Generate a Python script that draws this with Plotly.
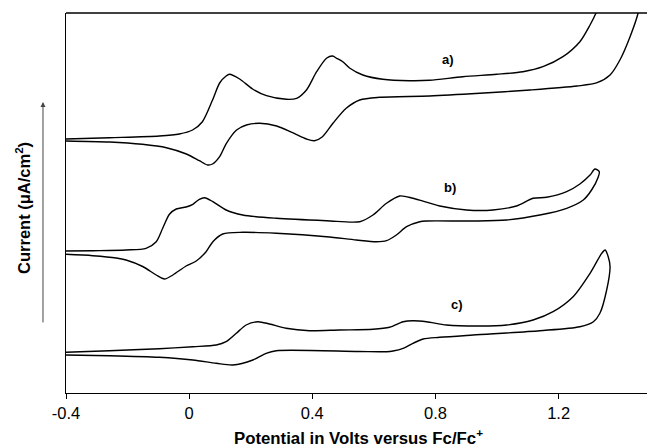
import plotly.graph_objects as go

# Cyclic voltammograms a), b), c); currents in arbitrary, vertically offset units.
# Each loop: forward (anodic) sweep left->right, then return sweep right->left.

pot_a = [-0.400, -0.259, -0.097, -0.032, 0.011, 0.043, 0.076, 0.099, 0.120, 0.131,
         0.164, 0.206, 0.251, 0.316, 0.349, 0.381, 0.414, 0.447, 0.466, 0.479,
         0.499, 0.521, 0.564, 0.629, 0.716, 0.781, 0.889, 0.999, 1.084, 1.149,
         1.214, 1.269, 1.302, 1.321, 1.345, 1.470,
         1.458, 1.432, 1.399, 1.367, 1.325, 1.260, 1.107, 0.944, 0.781, 0.619,
         0.554, 0.510, 0.467, 0.433, 0.407, 0.381, 0.336, 0.284, 0.229,
         0.186, 0.154, 0.121, 0.099, 0.076, 0.060, 0.033, -0.009, -0.074, -0.152,
         -0.259, -0.400]
cur_a = [254, 255.3, 257, 259, 263, 271.3, 293, 310, 317, 318.7,
         314, 304, 297.3, 293.7, 294.7, 303, 321.3, 335, 337, 334.7,
         331.3, 325, 318, 313.7, 312.3, 312.7, 316.3, 318.7, 321.3, 326.3,
         336.3, 351.3, 368, 379.7, 400, 400,
         379.7, 356.3, 333, 318, 310.3, 307, 303, 299.7, 297, 295.7,
         293, 284.7, 269.7, 256.3, 252.3, 254, 260.3, 267, 269.7,
         268, 263, 249.7, 236.3, 229, 228, 232.3, 239, 245.3, 248.7,
         251, 252]

pot_b = [-0.400, -0.313, -0.205, -0.140, -0.107, -0.086, -0.064, -0.042, -0.010, 0.012,
         0.033, 0.050, 0.077, 0.120, 0.174, 0.283, 0.446, 0.554, 0.597, 0.641,
         0.684, 0.727, 0.814, 0.901, 0.987, 1.063, 1.117, 1.161, 1.226, 1.269,
         1.302, 1.318, 1.332, 1.329, 1.307, 1.280, 1.226, 1.139, 1.031, 0.922,
         0.771, 0.749, 0.706, 0.673, 0.641, 0.608, 0.543, 0.446, 0.283, 0.174,
         0.109, 0.077, 0.055, 0.023, -0.010, -0.053, -0.080, -0.107, -0.151, -0.205,
         -0.237, -0.313, -0.400]
cur_b = [142, 142.3, 143, 144.7, 151.3, 164.7, 178.7, 184, 186, 188.7,
         193.7, 195.3, 191.3, 183, 178, 174.7, 172.3, 171.3, 178, 189.7,
         197, 194.7, 187, 183, 183, 187, 194.7, 195.7, 201.3, 209,
         218, 224, 221.3, 216.3, 203, 193, 184.7, 178, 173, 172,
         172, 171.3, 166.3, 158, 152.3, 151.3, 153, 156.3, 159.7, 160.7,
         159, 151.3, 141.3, 132, 127, 118, 114, 118, 126.5, 133,
         135, 137.3, 138.7]

pot_c = [-0.400, -0.259, -0.097, 0.012, 0.088, 0.120, 0.153, 0.185, 0.223, 0.261,
         0.315, 0.391, 0.489, 0.597, 0.651, 0.695, 0.727, 0.771, 0.836, 0.944,
         1.031, 1.117, 1.182, 1.247, 1.302, 1.340, 1.351, 1.361, 1.367, 1.356,
         1.334, 1.313, 1.269, 1.139, 0.922, 0.814, 0.760, 0.727, 0.695, 0.662,
         0.641, 0.550, 0.283, 0.250, 0.207, 0.142, 0.088, 0.012, -0.097, -0.259,
         -0.400]
cur_c = [40.7, 42.3, 44.3, 46.3, 48, 51.3, 59.7, 68, 71.3, 69,
         64.7, 62.3, 63, 63.7, 65.7, 71.3, 72.3, 71.3, 68, 67,
         68, 73, 81.3, 96.3, 119.7, 139.7, 143, 136.3, 126.3, 103,
         79.7, 71.3, 66.3, 62.3, 58, 55.7, 54, 49.7, 44.7, 42,
         41.3, 41.5, 42.3, 39.7, 33, 28, 29.7, 33, 35.7, 37.3,
         38]

curve_labels = ["a)", "b)", "c)"]
label_pot = [0.842, 0.848, 0.871]
label_cur = [334, 205.5, 89]

tick_vals = [-0.4, 0, 0.4, 0.8, 1.2]
tick_text = ["-0.4", "0", "0.4", "0.8", "1.2"]

FONT = "Arial, Liberation Sans, sans-serif"

fig = go.Figure()
for pot, cur in [(pot_a, cur_a), (pot_b, cur_b), (pot_c, cur_c)]:
    fig.add_trace(go.Scatter(
        x=pot, y=cur, mode="lines",
        line=dict(color="black", width=1.4, shape="spline", smoothing=0.8),
        showlegend=False, hoverinfo="skip"))

for txt, xp, yc in zip(curve_labels, label_pot, label_cur):
    fig.add_annotation(x=xp, y=yc, text=f"<b>{txt}</b>", showarrow=False,
                       xanchor="center", yanchor="middle",
                       font=dict(family=FONT, size=13, color="black"))

# y-axis title and the upward arrow beside it
fig.add_annotation(xref="paper", yref="paper", x=-0.074, y=0.487,
                   xanchor="center", yanchor="middle",
                   text="<b>Current (μA/cm<sup>2</sup>)</b>", textangle=-90,
                   showarrow=False, font=dict(family=FONT, size=16.5, color="black"))
fig.add_annotation(xref="paper", yref="paper", x=-0.0396, y=0.766,
                   ax=0, ay=222, axref="pixel", ayref="pixel", text="",
                   showarrow=True, arrowhead=2, arrowsize=1, arrowwidth=1,
                   arrowcolor="#444444")

# x-axis title
fig.add_annotation(xref="paper", yref="paper", x=0.503, y=-0.115,
                   xanchor="center", yanchor="middle",
                   text="<b>Potential in Volts versus Fc/Fc<sup>+</sup></b>",
                   showarrow=False,
                   font=dict(family=FONT, size=16.8, color="black"))

# top frame line
fig.add_shape(type="line", xref="paper", yref="paper", x0=0, x1=1, y0=1, y1=1,
              line=dict(color="black", width=1.3))

fig.update_layout(
    width=647, height=447,
    margin=dict(l=66, r=0, t=13, b=54),
    paper_bgcolor="white", plot_bgcolor="white",
    xaxis=dict(range=[-0.4, 1.487], tickvals=tick_vals, ticktext=tick_text,
               ticks="outside", ticklen=5, tickwidth=1.2, tickcolor="black",
               showline=True, linecolor="black", linewidth=1.3,
               showgrid=False, zeroline=False,
               tickfont=dict(family=FONT, size=16.5, color="black")),
    yaxis=dict(range=[0, 380], showticklabels=False, ticks="",
               showline=True, linecolor="black", linewidth=1.3,
               showgrid=False, zeroline=False),
)

fig.write_html("out.html")
